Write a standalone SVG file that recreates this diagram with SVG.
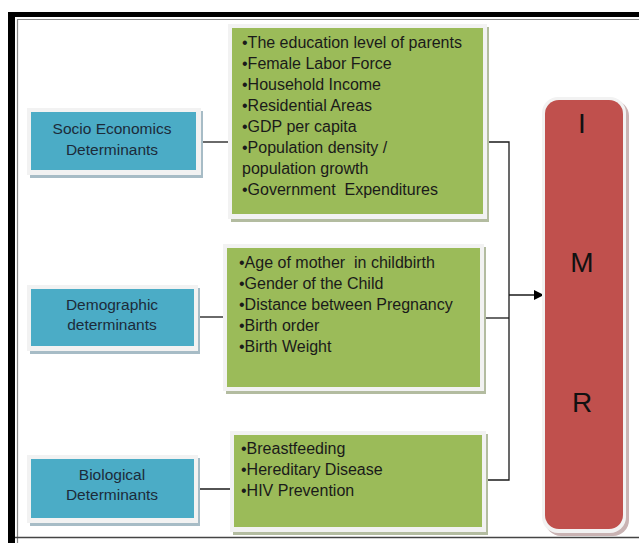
<svg xmlns="http://www.w3.org/2000/svg" width="639" height="543" viewBox="0 0 639 543">
  <defs>
    <marker id="arrow" markerWidth="10" markerHeight="10" refX="9" refY="5" orient="auto" markerUnits="userSpaceOnUse">
      <path d="M0,0 L10,5 L0,10 Z" fill="#000"/>
    </marker>
  </defs>
  <style>
    .frame-thick { fill: #000; }
    .frame-thin { fill: none; stroke: #888; stroke-width: 1.2; }
    .halo { fill: #f2f2f2; }
    .shadow-blue { fill: #a7bcc6; }
    .shadow-green { fill: #b3bca0; }
    .shadow-red { fill: #c9b3b3; }
    .blue { fill: #4bacc6; }
    .green { fill: #9bbb59; }
    .red { fill: #c0504d; }
    .label { font-family: "Liberation Sans", Arial, sans-serif; font-size: 15.5px; fill: #1c2b3a; text-anchor: middle; }
    .item { font-family: "Liberation Sans", Arial, sans-serif; font-size: 16px; fill: #1a1a1a; }
    .big { font-family: "Liberation Sans", Arial, sans-serif; font-size: 28px; fill: #111; text-anchor: middle; }
    .conn { fill: none; stroke: #1a1a1a; stroke-width: 1.3; }
  </style>

  <rect width="639" height="543" fill="#fff"/>

  <!-- page frame -->
  <g id="frame">
    <rect class="frame-thick" x="8" y="12" width="631" height="5"/>
    <rect class="frame-thick" x="8" y="12" width="7" height="531"/>
    <path class="frame-thin" d="M17.5,543 V19.5 H639"/>
    <path d="M15,537.5 H639" stroke="#444" stroke-width="1.5" fill="none"/>
  </g>

  <!-- connectors -->
  <g id="connectors">
    <line class="conn" x1="202" y1="142" x2="228" y2="142"/>
    <line class="conn" x1="199" y1="317" x2="223" y2="317"/>
    <line class="conn" x1="197" y1="489" x2="230" y2="489"/>
    <polyline class="conn" points="488,142 509,142 509,480 487,480"/>
    <line class="conn" x1="485" y1="318" x2="509" y2="318"/>
    <line class="conn" x1="509" y1="295" x2="543" y2="295" marker-end="url(#arrow)"/>
  </g>

  <!-- left determinant nodes -->
  <g id="socio-economics">
    <rect class="shadow-blue" x="30" y="111" width="173" height="67"/>
    <rect class="halo" x="27" y="108" width="174" height="67"/>
    <rect class="blue" x="31" y="112" width="165" height="58"/>
    <text class="label" x="112" y="134">Socio Economics</text>
    <text class="label" x="112" y="155">Determinants</text>
  </g>

  <g id="demographic">
    <rect class="shadow-blue" x="30" y="288" width="170" height="66"/>
    <rect class="halo" x="27" y="285" width="171" height="66"/>
    <rect class="blue" x="31" y="289" width="163" height="57"/>
    <text class="label" x="112" y="310">Demographic</text>
    <text class="label" x="112" y="330">determinants</text>
  </g>

  <g id="biological">
    <rect class="shadow-blue" x="30" y="458" width="170" height="68"/>
    <rect class="halo" x="27" y="455" width="171" height="68"/>
    <rect class="blue" x="31" y="459" width="163" height="59"/>
    <text class="label" x="112" y="480">Biological</text>
    <text class="label" x="112" y="500">Determinants</text>
  </g>

  <!-- factor lists -->
  <g id="socio-factors">
    <rect class="shadow-green" x="231" y="27" width="258" height="195"/>
    <rect class="halo" x="228" y="24" width="259" height="195"/>
    <rect class="green" x="232" y="28" width="251" height="186"/>
    <text class="item" x="242" y="48">•The education level of parents</text>
    <text class="item" x="242" y="69">•Female Labor Force</text>
    <text class="item" x="242" y="90">•Household Income</text>
    <text class="item" x="242" y="111">•Residential Areas</text>
    <text class="item" x="242" y="132">•GDP per capita</text>
    <text class="item" x="242" y="153">•Population density /</text>
    <text class="item" x="242" y="174">population growth</text>
    <text class="item" x="242" y="195" xml:space="preserve">•Government  Expenditures</text>
  </g>

  <g id="demographic-factors">
    <rect class="shadow-green" x="226" y="247" width="260" height="147"/>
    <rect class="halo" x="223" y="244" width="261" height="147"/>
    <rect class="green" x="227" y="248" width="253" height="139"/>
    <text class="item" x="239" y="268" xml:space="preserve">•Age of mother  in childbirth</text>
    <text class="item" x="239" y="289">•Gender of the Child</text>
    <text class="item" x="239" y="310">•Distance between Pregnancy</text>
    <text class="item" x="239" y="331">•Birth order</text>
    <text class="item" x="239" y="352">•Birth Weight</text>
  </g>

  <g id="biological-factors">
    <rect class="shadow-green" x="233" y="434" width="255" height="101"/>
    <rect class="halo" x="230" y="431" width="256" height="101"/>
    <rect class="green" x="234" y="435" width="248" height="92"/>
    <text class="item" x="241" y="454">•Breastfeeding</text>
    <text class="item" x="241" y="475">•Hereditary Disease</text>
    <text class="item" x="241" y="496">•HIV Prevention</text>
  </g>

  <!-- outcome node -->
  <g id="imr">
    <rect class="shadow-red" x="545" y="100" width="84" height="436" rx="16"/>
    <rect class="halo" x="542" y="97" width="84" height="436" rx="16"/>
    <rect class="red" x="545" y="100" width="78" height="429" rx="14"/>
    <text class="big" x="582" y="133">I</text>
    <text class="big" x="582" y="272">M</text>
    <text class="big" x="582" y="412">R</text>
  </g>
</svg>
